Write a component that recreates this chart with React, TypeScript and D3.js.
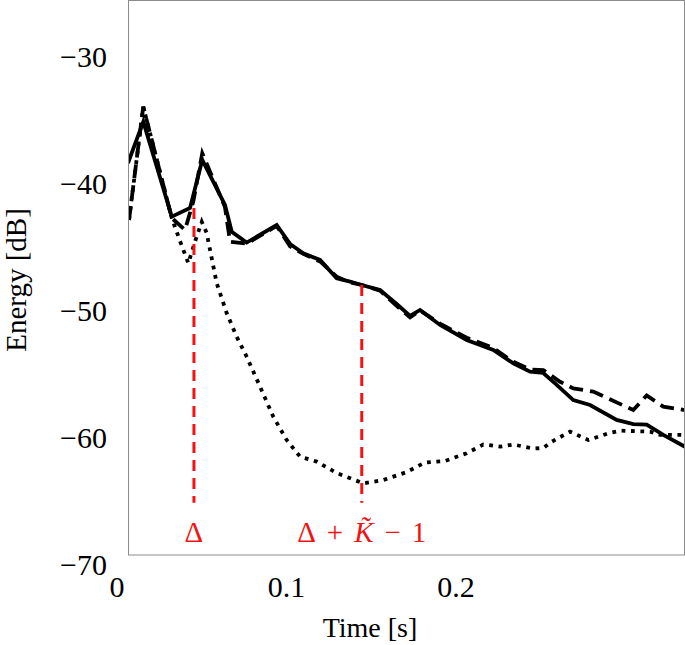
import React from "react";
import * as d3 from "d3";

// Time [s] and Energy [dB] series
const solidT = [0.0065, 0.0155, 0.0323, 0.0431, 0.0503, 0.0637, 0.0677, 0.0765, 0.0942, 0.1021, 0.1099, 0.1198, 0.1296, 0.1375, 0.1444, 0.1552, 0.165, 0.1729, 0.1788, 0.1906, 0.2063, 0.222, 0.2338, 0.2437, 0.2515, 0.2596, 0.2692, 0.2791, 0.2948, 0.3046, 0.3125, 0.3223, 0.3351];
const solidV = [-38.35, -35.09, -42.57, -41.89, -38.11, -41.65, -43.76, -44.61, -43.23, -44.72, -45.46, -45.98, -47.43, -47.69, -47.95, -48.35, -49.45, -50.39, -49.92, -51.1, -52.28, -53.07, -54.12, -54.78, -54.88, -55.83, -57.01, -57.4, -58.58, -58.9, -58.94, -59.76, -60.69];

const dashedT = [0.0071, 0.0155, 0.0323, 0.0401, 0.045, 0.0503, 0.0637, 0.0667, 0.0765, 0.0942, 0.1021, 0.1099, 0.1198, 0.1296, 0.1375, 0.1444, 0.1552, 0.165, 0.1729, 0.1788, 0.1906, 0.2063, 0.222, 0.2338, 0.2437, 0.2515, 0.2614, 0.2692, 0.281, 0.3046, 0.3125, 0.3223, 0.3351];
const dashedV = [-42.83, -33.91, -42.68, -43.62, -41.39, -37.58, -41.81, -44.54, -44.7, -43.3, -44.9, -45.5, -46.1, -47.3, -47.75, -47.95, -48.4, -49.6, -50.5, -49.95, -51.0, -52.1, -52.91, -54.0, -54.6, -54.65, -55.57, -56.09, -56.35, -57.8, -56.65, -57.53, -57.8];

const dottedT = [0.0071, 0.0155, 0.0323, 0.0372, 0.0421, 0.046, 0.05, 0.0529, 0.0588, 0.0647, 0.0706, 0.0765, 0.0844, 0.0922, 0.1001, 0.108, 0.1178, 0.1296, 0.1453, 0.1571, 0.1709, 0.1817, 0.1935, 0.2063, 0.2161, 0.226, 0.2338, 0.2456, 0.2515, 0.2565, 0.2673, 0.2781, 0.2899, 0.2968, 0.3145, 0.3204, 0.3351];
const dottedV = [-42.83, -33.91, -42.68, -44.5, -46.24, -44.54, -42.97, -43.86, -47.8, -50.16, -52.02, -53.6, -55.96, -58.32, -60.16, -61.47, -61.86, -62.76, -63.57, -63.31, -62.68, -61.93, -61.81, -61.2, -60.51, -60.68, -60.51, -60.83, -60.79, -60.29, -59.5, -60.16, -59.63, -59.42, -59.5, -59.76, -59.76];

const yTicks = [-30, -40, -50, -60, -70];
const xTicks = [0, 0.1, 0.2];
const xTickLabels = ["0", "0.1", "0.2"];

// marker lines: time, top energy, bottom energy
const markerT = [0.0454, 0.1444];
const markerTop = [-41.89, -47.95];
const markerBottom = -65.1;
const markerLabelV = -68.2;

export default function App() {
  const W = 685, H = 645;
  const left = 128, right = 684.5, top = 0.5, bottom = 555;
  const x = d3.scaleLinear().domain([0, 0.2]).range([117, 456]);
  const y = d3.scaleLinear().domain([-30, -70]).range([57, 565]);
  const mk = (ts: number[], vs: number[]) =>
    d3.line<number>().x((_, i) => x(ts[i])).y((v) => y(v))(vs) || "";
  const serif = "'Liberation Serif', 'DejaVu Serif', serif";
  const red = "#f01414";
  return (
    <svg width={W} height={H} style={{ position: "absolute", left: 0, top: 0, background: "#fff" }}
      fontFamily={serif}>
      <defs>
        <clipPath id="plot">
          <rect x={left} y={0} width={right - left} height={bottom} />
        </clipPath>
      </defs>
      <rect x={0} y={0} width={W} height={H} fill="#fff" />
      <g clipPath="url(#plot)" fill="none" strokeLinejoin="miter">
        <path d={mk(dottedT, dottedV)} stroke="#000" strokeWidth={3.8} strokeDasharray="3.8,5.6" />
        <path d={mk(solidT, solidV)} stroke="#000" strokeWidth={3.8} />
        <path d={mk(dashedT, dashedV)} stroke="#000" strokeWidth={3.8} strokeDasharray="14,7" />
        {markerT.map((t, i) => (
          <line key={i} x1={x(t)} x2={x(t)} y1={y(markerTop[i])} y2={y(markerBottom)}
            stroke={red} strokeWidth={3} strokeDasharray="11,7" />
        ))}
      </g>
      <rect x={left + 0.5} y={top} width={right - left - 0.5} height={bottom - top} fill="none" stroke="#8c8c8c" strokeWidth={1} />
      <text x={x(markerT[0])} y={y(markerLabelV)} textAnchor="middle" fill={red} fontSize={29}>Δ</text>
      <text x={x(markerT[1])} y={y(markerLabelV)} textAnchor="middle" fill={red} fontSize={29}>
        <tspan>Δ</tspan>
        <tspan dx={11}>+</tspan>
        <tspan dx={11} fontStyle="italic">K̃</tspan>
        <tspan dx={11}>−</tspan>
        <tspan dx={11}>1</tspan>
      </text>
      {yTicks.map((v) => (
        <text key={v} x={107} y={y(v) + 10} textAnchor="end" fontSize={30} fill="#000">
          {"−" + Math.abs(v)}
        </text>
      ))}
      {xTicks.map((t, i) => (
        <text key={t} x={x(t)} y={597} textAnchor="middle" fontSize={30} fill="#000">
          {xTickLabels[i]}
        </text>
      ))}
      <text x={370} y={637} textAnchor="middle" fontSize={28} fill="#000">Time [s]</text>
      <text transform="translate(26,280) rotate(-90)" textAnchor="middle" fontSize={29} fill="#000">Energy [dB]</text>
    </svg>
  );
}
